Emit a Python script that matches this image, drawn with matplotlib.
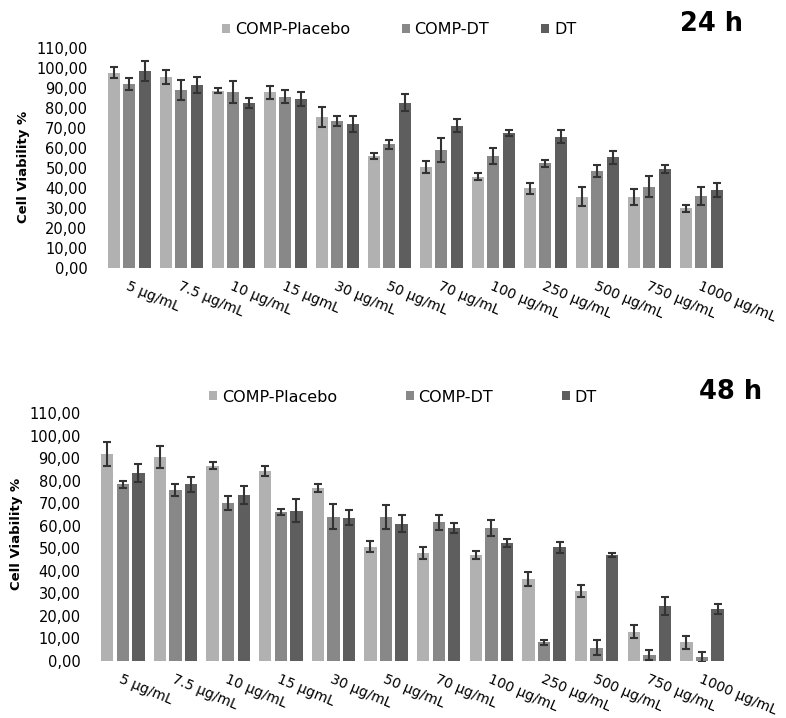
import matplotlib
matplotlib.use("Agg")
import matplotlib.pyplot as plt
import numpy as np
from matplotlib.patches import Patch
from matplotlib.ticker import FuncFormatter

categories = ["5 µg/mL", "7.5 µg/mL", "10 µg/mL", "15 µgmL", "30 µg/mL", "50 µg/mL",
              "70 µg/mL", "100 µg/mL", "250 µg/mL", "500 µg/mL", "750 µg/mL", "1000 µg/mL"]
series_names = ["COMP-Placebo", "COMP-DT", "DT"]
colors = ["#b1b1b1", "#888888", "#5e5e5e"]

# 24 h
placebo_24 = [97.8, 95.5, 88.8, 88.0, 75.6, 56.1, 50.5, 45.8, 40.0, 35.8, 35.8, 30.0]
placebo_24_err = [2.7, 3.5, 1.2, 3.3, 5.0, 1.5, 3.0, 1.7, 2.7, 4.8, 4.0, 1.8]
compdt_24 = [92.0, 89.2, 88.0, 85.8, 73.8, 62.0, 59.2, 56.1, 52.5, 48.6, 40.8, 36.1]
compdt_24_err = [3.0, 5.0, 5.5, 3.3, 2.5, 2.2, 6.0, 4.2, 1.7, 3.0, 5.2, 4.4]
dt_24 = [98.8, 91.7, 82.8, 84.6, 72.0, 82.8, 71.2, 67.8, 65.8, 55.5, 49.6, 39.1]
dt_24_err = [5.0, 4.0, 2.5, 3.3, 4.0, 4.2, 3.3, 1.5, 3.2, 3.3, 2.0, 3.3]

# 48 h
placebo_48 = [91.9, 90.4, 86.7, 84.3, 76.6, 50.7, 48.0, 47.0, 36.3, 31.0, 12.9, 8.1]
placebo_48_err = [5.2, 4.9, 1.5, 2.1, 1.8, 2.4, 2.6, 1.9, 3.0, 2.7, 2.8, 3.0]
compdt_48 = [78.5, 75.9, 70.2, 66.2, 64.0, 64.0, 61.5, 59.1, 8.1, 5.8, 2.5, 1.8]
compdt_48_err = [1.6, 2.7, 3.0, 1.3, 5.5, 5.4, 3.5, 3.5, 1.1, 3.3, 2.3, 2.2]
dt_48 = [83.6, 78.4, 73.6, 66.7, 63.6, 61.0, 59.1, 52.4, 50.4, 47.0, 24.4, 23.0]
dt_48_err = [4.0, 3.2, 4.0, 5.0, 3.3, 3.6, 2.2, 1.7, 2.4, 0.9, 4.1, 2.4]

yticks = list(range(0, 111, 10))

W, H = 786, 718
fig = plt.figure(figsize=(W / 100, H / 100), dpi=100)


def px_axes(left, bottom_px, right, top_px):
    return fig.add_axes([left / W, 1 - bottom_px / H, (right - left) / W, (bottom_px - top_px) / H])


def draw(ax, data, errs):
    x = np.arange(len(categories))
    offsets = [-0.296, 0.0, 0.296]
    for vals, e, c, off, name in zip(data, errs, colors, offsets, series_names):
        ax.bar(x + off, vals, width=0.235, color=c, label=name, zorder=2)
        ax.errorbar(x + off, vals, yerr=e, fmt="none", ecolor="#333333",
                    elinewidth=1.5, capsize=3.2, capthick=1.5, zorder=3)
    ax.set_xlim(-0.5, len(categories) - 0.5)
    ax.set_ylim(0, 110)
    ax.set_yticks(yticks)
    ax.yaxis.set_major_formatter(FuncFormatter(lambda v, p: f"{v:.2f}".replace(".", ",")))
    ax.set_xticks(x)
    ax.set_xticklabels(categories, rotation=-23, ha="left", va="top",
                       rotation_mode="anchor", fontsize=10)
    ax.tick_params(axis="y", length=0, pad=11.5, labelsize=10.5)
    ax.tick_params(axis="x", length=0, pad=8)
    for s in ax.spines.values():
        s.set_visible(False)


ax1 = px_axes(103.3, 268.3, 727.3, 48.3)
draw(ax1, [placebo_24, compdt_24, dt_24], [placebo_24_err, compdt_24_err, dt_24_err])
ax2 = px_axes(96.5, 660.7, 728.3, 413.3)
draw(ax2, [placebo_48, compdt_48, dt_48], [placebo_48_err, compdt_48_err, dt_48_err])

handles = [Patch(facecolor=c, edgecolor="none", label=n) for c, n in zip(colors, series_names)]
fig.legend(handles=handles, loc="center left", bbox_to_anchor=(222 / W, 1 - 30 / H),
           ncol=3, frameon=False, fontsize=11.5, handlelength=0.5, handleheight=0.5,
           handletextpad=0.3, columnspacing=3.25, borderpad=0, borderaxespad=0)
fig.legend(handles=handles, loc="center left", bbox_to_anchor=(209 / W, 1 - 397 / H),
           ncol=3, frameon=False, fontsize=11.5, handlelength=0.5, handleheight=0.5,
           handletextpad=0.3, columnspacing=4.3, borderpad=0, borderaxespad=0)

fig.text(711 / W, 1 - 24 / H, "24 h", ha="center", va="center", fontsize=18.5, fontweight="bold")
fig.text(731 / W, 1 - 392 / H, "48 h", ha="center", va="center", fontsize=18.5, fontweight="bold")

fig.text(24 / W, 1 - 166.5 / H, "Cell Viability %", rotation=90, ha="center", va="center",
         fontsize=9.5, fontweight="bold")
fig.text(17 / W, 1 - 534 / H, "Cell Viability %", rotation=90, ha="center", va="center",
         fontsize=9.5, fontweight="bold")

fig.savefig("out.png", dpi=100)
